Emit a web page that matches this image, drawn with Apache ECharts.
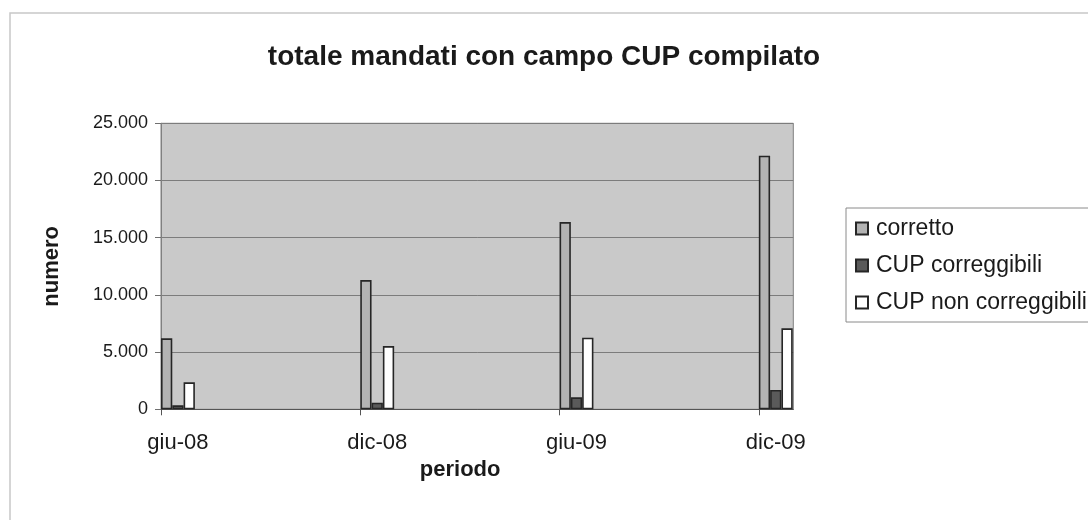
<!DOCTYPE html>
<html>
<head>
<meta charset="utf-8">
<script src="https://cdn.jsdelivr.net/npm/echarts@6/dist/echarts.min.js"></script>
<style>
html,body{margin:0;padding:0;background:#fff;}
#chart{width:1088px;height:520px;}
</style>
</head>
<body>
<div id="chart"></div>
<script>
const categories = ['giu-08', 'dic-08', 'giu-09', 'dic-09'];
const seriesNames = ['corretto', 'CUP correggibili', 'CUP non correggibili'];
const corretto = [6200, 11300, 16370, 22170];
const cupCorreggibili = [350, 580, 1050, 1690];
const cupNonCorreggibili = [2360, 5530, 6260, 7080];

const halfGroup = 0.085; // half of a bar group, in category units
const fmt = v => String(v).replace(/\B(?=(\d{3})+(?!\d))/g, '.');
const toPts = arr => arr.map((v, i) => [i, v]);

const chart = echarts.init(document.getElementById('chart'));
const barBorder = { borderColor: '#262626', borderWidth: 1.6 };
const fills = ['#b3b3b3', '#5a5a5a', '#ffffff'];
const values = [corretto, cupCorreggibili, cupNonCorreggibili];

chart.setOption({
  animation: false,
  backgroundColor: '#ffffff',
  textStyle: { fontFamily: 'Liberation Sans, Arial, sans-serif' },
  graphic: [{
    type: 'rect', silent: true,
    shape: { x: 10, y: 13, width: 1200, height: 600 },
    style: { fill: 'none', stroke: '#c8c8c8', lineWidth: 1.5 }
  }],
  title: {
    text: 'totale mandati con campo CUP compilato',
    left: 'center', top: 38, padding: [5, 5, 5, 29],
    textStyle: { fontSize: 28, fontWeight: 'bold', color: '#1a1a1a', fontFamily: 'Liberation Sans, Arial, sans-serif' }
  },
  legend: {
    orient: 'vertical', left: 846, top: 208,
    padding: [9, 12, 8, 9],
    borderColor: '#8a8a8a', borderWidth: 1,
    itemWidth: 12, itemHeight: 12, itemGap: 14,
    icon: 'rect',
    data: seriesNames,
    textStyle: { fontSize: 23, lineHeight: 22, color: '#1a1a1a', padding: [0, 0, 0, 3] }
  },
  grid: {
    left: 161, right: 294.7, top: 123.3, bottom: 110.7,
    show: true, backgroundColor: '#c9c9c9', borderColor: '#808080', borderWidth: 1
  },
  xAxis: {
    type: 'value',
    min: -halfGroup, max: 3.088,
    name: 'periodo', nameLocation: 'middle', nameGap: 44,
    nameTextStyle: { fontSize: 22, fontWeight: 'bold', color: '#1a1a1a', padding: [0, 34, 0, 0] },
    axisLine: { show: true, onZero: false, lineStyle: { color: '#555555', width: 1 } },
    axisTick: { show: true, length: 6, lineStyle: { color: '#555555' },
      customValues: categories.map((c, i) => i - halfGroup) },
    axisLabel: { fontSize: 22, color: '#1a1a1a', margin: 23,
      customValues: categories.map((c, i) => i),
      formatter: v => categories[Math.round(v)] },
    splitLine: { show: false }
  },
  yAxis: {
    type: 'value', min: 0, max: 25000, interval: 5000,
    name: 'numero', nameLocation: 'middle', nameGap: 98, nameRotate: 90,
    nameTextStyle: { fontSize: 22, fontWeight: 'bold', color: '#1a1a1a' },
    axisLine: { show: true, onZero: false, lineStyle: { color: '#808080', width: 1 } },
    axisTick: { show: true, inside: false, length: 6, lineStyle: { color: '#707070' } },
    axisLabel: { fontSize: 18, color: '#1a1a1a', margin: 13,
      formatter: v => fmt(v) },
    splitLine: { show: true, lineStyle: { color: '#7c7c7c', width: 1 } }
  },
  series: values.map((arr, k) => ({
    name: seriesNames[k], type: 'bar',
    data: toPts(arr),
    barWidth: 11.3, barGap: '0%',
    itemStyle: Object.assign({ color: fills[k] }, barBorder)
  }))
});
</script>
</body>
</html>
